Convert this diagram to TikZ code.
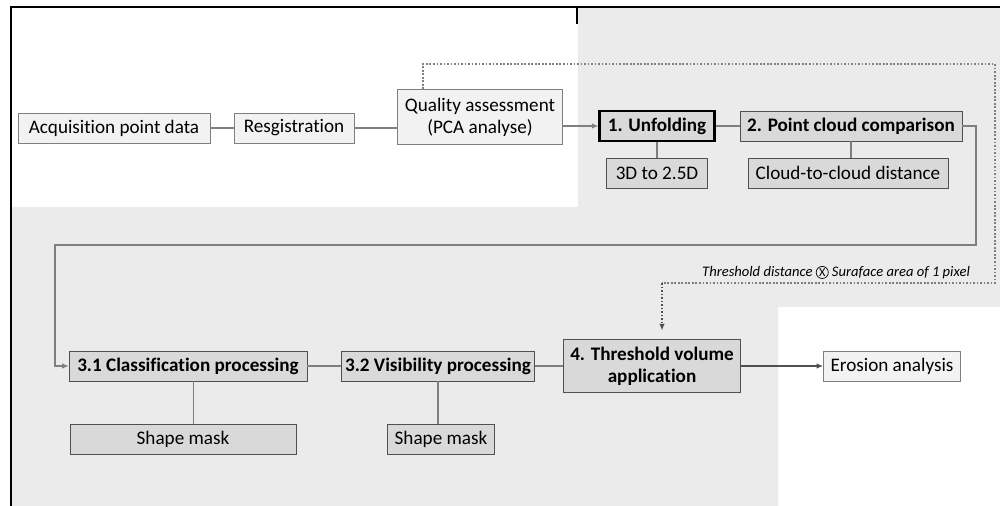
\documentclass[tikz,border=0pt]{standalone}
\usepackage{fontspec}
\setmainfont{Carlito}[Ligatures=NoCommon]
\usetikzlibrary{arrows.meta}
\definecolor{bggrey}{RGB}{235,235,235}
\definecolor{boxlight}{RGB}{242,242,242}
\definecolor{boxdark}{RGB}{217,217,217}
\definecolor{edgelight}{RGB}{127,127,127}
\definecolor{edgedark}{RGB}{80,80,80}
\newcommand{\circx}{\tikz[baseline=(cx.base)]\node[draw,circle,inner sep=0.4pt,font=\fontsize{7}{8}\selectfont\upshape] (cx) {X};}
\begin{document}
\begin{tikzpicture}[x=0.02cm,y=-0.02cm,
    font=\fontsize{10.9}{12.5}\selectfont,
    lightbox/.style={draw=edgelight,fill=boxlight,minimum height=0.6cm,inner sep=2pt},
    darkbox/.style={draw=edgedark,fill=boxdark,minimum height=0.6cm,inner sep=2pt},
    boldtext/.style={font=\fontsize{10.9}{12.5}\selectfont\bfseries},
    link/.style={draw=edgelight,line width=0.6pt},
    dotlink/.style={draw=edgelight,line width=0.6pt,dash pattern=on 1pt off 1pt},
    tip/.style={-{Latex[length=1.3mm,width=1.1mm]}}]
    \useasboundingbox (0,0) rectangle (1000,506);
    % grey background and frame
    \fill[bggrey] (578,7) -- (1000,7) -- (1000,307) -- (778,307) -- (778,506)
        -- (11,506) -- (11,207) -- (578,207) -- cycle;
    \draw[line width=0.8pt] (11,506) -- (11,7) -- (1000,7);
    \draw[line width=1.6pt] (577,7) -- (577,24);
    % first row
    \node[lightbox,minimum width=3.84cm] (acq) at (114,128) {Acquisition point data};
    \node[lightbox,minimum width=2.4cm] (reg) at (294,128) {Resgistration};
    \node[lightbox,minimum width=3.3cm,minimum height=1.1cm,align=center] (qual) at (480,117)
        {Quality assessment\\(PCA analyse)};
    \node[darkbox,boldtext,draw=black,line width=1.2pt,minimum width=2.3cm] (unfold) at (657,126) {1. Unfolding};
    \node[darkbox,boldtext,minimum width=4.44cm] (pcc) at (851,126) {2. Point cloud comparison};
    \node[darkbox,minimum width=2.02cm] (dim) at (657,173) {3D to 2.5D};
    \node[darkbox,minimum width=4cm] (ctc) at (848,173) {Cloud-to-cloud distance};
    % second row
    \node[darkbox,boldtext,minimum width=4.76cm] (class) at (188,366) {3.1 Classification processing};
    \node[darkbox,boldtext,minimum width=3.86cm] (vis) at (438,366) {3.2 Visibility processing};
    \node[darkbox,boldtext,minimum width=3.54cm,minimum height=1.06cm,align=center] (thresh) at (652,366)
        {4. Threshold volume\\application};
    \node[lightbox,minimum width=2.74cm] (eros) at (892,366) {Erosion analysis};
    \node[darkbox,minimum width=4.52cm] (maskA) at (183,439) {Shape mask};
    \node[darkbox,minimum width=2.14cm] (maskB) at (441,439) {Shape mask};
    % turning points
    \coordinate (turnA) at (976,245);
    \coordinate (turnB) at (55,245);
    \coordinate (dotA) at (423,64);
    \coordinate (dotB) at (995,64);
    \coordinate (dotC) at (995,283);
    \coordinate (dotD) at (662,283);
    % connectors
    \path[link] (acq) -- (reg);
    \path[link] (reg) -- (qual.west |- reg);
    \path[link,tip] (qual.east |- unfold) -- (unfold);
    \path[link] (unfold) -- (pcc);
    \path[link] (unfold) -- (dim);
    \path[link] (pcc.south) -- (pcc.south |- ctc.north);
    \path[link,tip] (pcc.east) -| (turnA) -- (turnB) |- (class.west);
    \path[link] (class) -- (vis);
    \path[link] (vis) -- (thresh.west |- vis);
    \path[link] ([xshift=3pt]class.south) -- ([xshift=3pt]class.south |- maskA.north);
    \path[link] (vis.south) -- (vis.south |- maskB.north);
    \path[draw=edgedark,line width=0.8pt,tip] (thresh.east |- eros) -- (eros);
    \path[dotlink] (qual.north -| dotA) -- (dotA) -- (dotB) -- (dotC) -- (dotD);
    \path[dotlink,tip,draw=edgedark,shorten >=5pt] (dotD) -- (thresh.north -| dotD);
    \node[anchor=south east,inner sep=1pt,font=\fontsize{8.3}{10}\selectfont\itshape] (note) at (972,281)
        {Threshold distance \circx{} Suraface area of 1 pixel};
\end{tikzpicture}
\end{document}
